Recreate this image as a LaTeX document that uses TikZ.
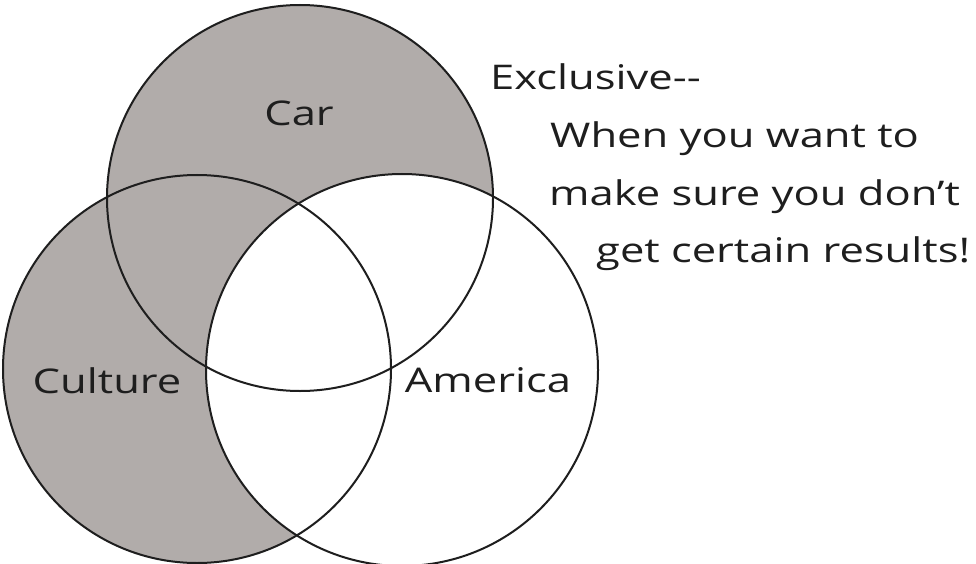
\documentclass[tikz,border=0pt]{standalone}
\usepackage{fontspec}
\setmainfont{Open Sans}
\newfontfamily\handfont[FakeStretch=1.28]{Open Sans}
\definecolor{venngray}{RGB}{177,172,170}
\definecolor{ink}{RGB}{30,30,30}
\begin{document}
\begin{tikzpicture}[x=1pt,y=-1pt,
  ring/.style={draw=ink,line width=2pt},
  lbl/.style={inner sep=0pt,text=ink,font=\handfont\fontsize{34}{40}\selectfont},
  note/.style={lbl,anchor=base west}]
\fill[white] (0,0) rectangle (976,564);
\useasboundingbox (0,0) rectangle (976,564);
\coordinate (carC) at (300,198);
\coordinate (culC) at (197,369);
\coordinate (ameC) at (402,370);
\fill[venngray] (carC) circle[radius=193];
\fill[venngray] (culC) circle[radius=194];
\fill[white] (ameC) circle[radius=196];
\draw[ring] (carC) circle[radius=193];
\draw[ring] (culC) circle[radius=194];
\draw[ring] (ameC) circle[radius=196];
\node[lbl,anchor=base] (car) at (299,126) {Car};
\node[lbl,anchor=base] (culture) at (107,393) {Culture};
\node[lbl,anchor=base] (america) at (488,392) {America};
\node[note] (l1) at (490,90) {Exclusive{-}{-}};
\node[note] (l2) at (550,148) {When you want to};
\node[note] (l3) at (549,205) {make sure you don’t};
\node[note] (l4) at (596,262) {get certain results!};
\end{tikzpicture}
\end{document}
